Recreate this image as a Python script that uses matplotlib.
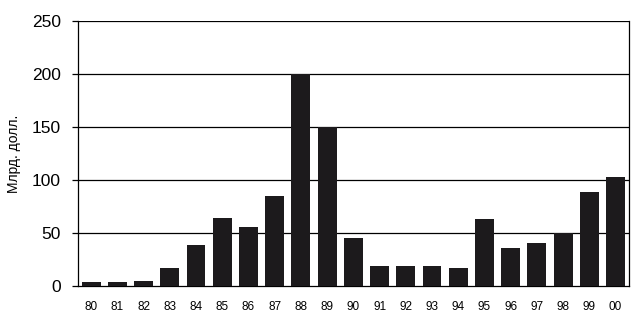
import matplotlib.pyplot as plt

years = ['80', '81', '82', '83', '84', '85', '86', '87', '88', '89', '90',
         '91', '92', '93', '94', '95', '96', '97', '98', '99', '00']
values = [4, 4, 5, 17, 39, 64, 56, 85, 200, 150, 45,
          19, 19, 19, 17, 63, 36, 41, 50, 89, 103]
yticks = [0, 50, 100, 150, 200, 250]

plt.rcParams['font.family'] = ['Liberation Sans', 'DejaVu Sans']

fig = plt.figure(figsize=(6.41, 3.15), dpi=100)
ax = fig.add_axes([0.1217, 0.092, 0.8591, 0.8404])

ax.bar(range(len(years)), values, width=0.72, color='#1c1a1c', zorder=3)

ax.set_xlim(-0.5, len(years) - 0.5)
ax.set_ylim(0, 250)
ax.set_yticks(yticks)
ax.set_xticks(range(len(years)))
ax.set_xticklabels(years)

# сетка по оси Y
for v in yticks[1:]:
    ax.axhline(v, color='black', lw=0.9, zorder=1)

for side in ['left', 'right', 'bottom']:
    ax.spines[side].set_linewidth(0.9)
ax.spines['top'].set_visible(False)

ax.tick_params(axis='y', length=4.5, width=0.9, pad=8, labelsize=12.5)
ax.tick_params(axis='x', length=0, pad=11, labelsize=8.5)

ax.set_ylabel('Млрд. долл.', fontsize=10)
ax.yaxis.set_label_coords(-0.103, 0.5)

fig.savefig('out.png', dpi=100)
